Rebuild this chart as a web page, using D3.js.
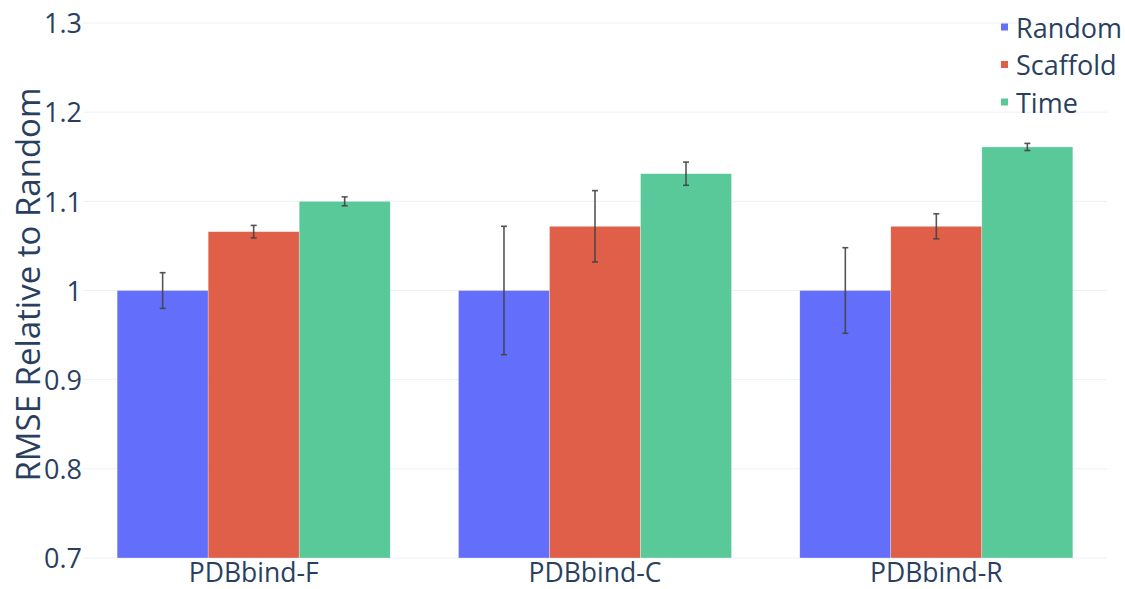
<!DOCTYPE html>
<html>
<head>
<meta charset="utf-8">
<script src="https://cdn.jsdelivr.net/npm/d3@7"></script>
<style>
  html, body { margin: 0; padding: 0; background: #fff; }
  svg { display: block; font-family: "Open Sans", "Noto Sans", sans-serif; }
</style>
</head>
<body>
<svg id="chart" width="1125" height="589"></svg>
<script>
// Benchmark datasets and split strategies
const categories = ["PDBbind-F", "PDBbind-C", "PDBbind-R"];
const seriesNames = ["Random", "Scaffold", "Time"];
const seriesColors = ["#636efa", "#df5f48", "#5ac99a"];

// Mean RMSE relative to the random split, one array per split
const randomValues   = [1.000, 1.000, 1.000];
const scaffoldValues = [1.066, 1.072, 1.072];
const timeValues     = [1.100, 1.131, 1.161];

// Symmetric error (standard deviation) per bar
const randomErrors   = [0.020, 0.072, 0.048];
const scaffoldErrors = [0.007, 0.040, 0.014];
const timeErrors     = [0.005, 0.013, 0.004];

const yTicks = [0.7, 0.8, 0.9, 1.0, 1.1, 1.2, 1.3];
const yTitle = "RMSE Relative to Random";

const seriesValues = [randomValues, scaffoldValues, timeValues];
const seriesErrors = [randomErrors, scaffoldErrors, timeErrors];

const rows = [];
categories.forEach((c, i) => {
  seriesNames.forEach((s, j) => {
    rows.push({ category: c, series: s, value: seriesValues[j][i], err: seriesErrors[j][i], color: seriesColors[j] });
  });
});

const svg = d3.select("#chart");
const margin = { left: 83, right: 18, top: 23, bottom: 31 };
const W = 1125, H = 589;
const plotW = W - margin.left - margin.right;
const plotH = H - margin.top - margin.bottom;

const x = d3.scaleBand().domain(categories).range([0, plotW]).paddingInner(0.2).paddingOuter(0.1);
const xInner = d3.scaleBand().domain(seriesNames).range([0, x.bandwidth()]);
const y = d3.scaleLinear().domain([0.7, 1.3]).range([plotH, 0]);

const g = svg.append("g").attr("transform", `translate(${margin.left},${margin.top})`);

// Horizontal grid
g.append("g")
  .selectAll("line")
  .data(yTicks)
  .join("line")
  .attr("x1", 0).attr("x2", plotW)
  .attr("y1", d => y(d)).attr("y2", d => y(d))
  .attr("stroke", "#ebf0f8").attr("stroke-width", 1);

// Y axis labels
const yAxis = g.append("g").call(
  d3.axisLeft(y).tickValues(yTicks).tickSize(0).tickPadding(1).tickFormat(d => d3.format("~g")(d))
);
yAxis.select(".domain").remove();
yAxis.selectAll("text")
  .attr("fill", "#2a3f5f").style("font-size", "27px").attr("dy", "0.36em")
  .style("font-family", "'Open Sans', sans-serif");

// X axis labels
const xAxis = g.append("g").attr("transform", `translate(0,${plotH})`)
  .call(d3.axisBottom(x).tickSize(0).tickPadding(0));
xAxis.select(".domain").remove();
xAxis.selectAll("text")
  .attr("fill", "#2a3f5f").style("font-size", "26.5px")
  .attr("dy", null).attr("y", 24)
  .style("font-family", "'Open Sans', sans-serif");

// Bars
const bars = g.append("g");
bars.selectAll("rect")
  .data(rows)
  .join("rect")
  .attr("x", d => x(d.category) + xInner(d.series))
  .attr("width", xInner.bandwidth())
  .attr("y", d => y(d.value))
  .attr("height", d => y(0.7) - y(d.value))
  .attr("fill", d => d.color)
  .attr("stroke", "#fff").attr("stroke-width", 0.5).attr("stroke-opacity", 0.6);

// Error bars
const cap = 3;
const eb = g.append("g").attr("stroke", "#444").attr("stroke-width", 1.6).attr("stroke-opacity", 0.9);
rows.forEach(d => {
  const cx = x(d.category) + xInner(d.series) + xInner.bandwidth() / 2;
  const y0 = y(d.value - d.err), y1 = y(d.value + d.err);
  eb.append("line").attr("x1", cx).attr("x2", cx).attr("y1", y0).attr("y2", y1);
  eb.append("line").attr("x1", cx - cap).attr("x2", cx + cap).attr("y1", y0).attr("y2", y0);
  eb.append("line").attr("x1", cx - cap).attr("x2", cx + cap).attr("y1", y1).attr("y2", y1);
});

// Y axis title
svg.append("text")
  .attr("transform", `translate(40,${margin.top + plotH / 2 - 6}) rotate(-90)`)
  .attr("text-anchor", "middle")
  .attr("fill", "#2a3f5f")
  .style("font-size", "33px")
  .text(yTitle);

// Legend
const legend = svg.append("g").attr("transform", "translate(1001,27)");
seriesNames.forEach((s, i) => {
  const row = legend.append("g").attr("transform", `translate(0,${i * 37.5})`);
  row.append("rect").attr("x", 0).attr("y", -3.5).attr("width", 7).attr("height", 7).attr("fill", seriesColors[i]);
  row.append("text").attr("x", 15).attr("y", 10.5)
    .attr("fill", "#2a3f5f").style("font-size", "27px").text(s);
});
</script>
</body>
</html>
